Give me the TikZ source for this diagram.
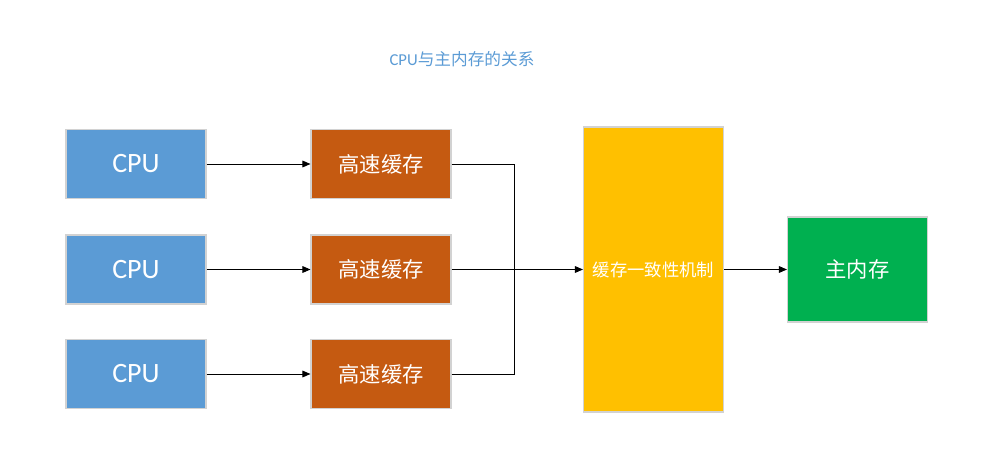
\documentclass[tikz,border=0pt]{standalone}
\usepackage{fontspec}
\setmainfont{Noto Sans CJK SC}
\newfontfamily\latfont{Carlito}
\usetikzlibrary{arrows.meta}

\definecolor{cpublue}{HTML}{5B9BD5}
\definecolor{cacheorange}{HTML}{C55A11}
\definecolor{syncyellow}{HTML}{FFC000}
\definecolor{memgreen}{HTML}{00B050}

\tikzset{
  unitbox/.style={draw=gray!35, line width=0.8pt, text=white,
    minimum width=105pt, minimum height=51.75pt, inner sep=0pt},
  cpubox/.style={unitbox, fill=cpublue, font={\latfont\fontsize{21}{24}\selectfont}},
  cachebox/.style={unitbox, fill=cacheorange, font={\fontsize{16}{19}\selectfont}},
  link/.style={-{Triangle[length=6pt,width=5pt]}, line width=0.7pt}
}

\begin{document}
\begin{tikzpicture}[x=0.75pt, y=-0.75pt]

  \useasboundingbox (0,0) rectangle (996,464);

  % title
  \node[text=cpublue, font={\fontsize{12.5}{15}\selectfont}] (title) at (462,59)
  {{\latfont CPU}与主内存的关系};

  % CPUs
  \node[cpubox] (cpu1) at (136,164) {CPU};
  \node[cpubox] (cpu2) at (136,269.5) {CPU};
  \node[cpubox] (cpu3) at (136,374) {CPU};

  % caches
  \node[cachebox] (cache1) at (381,164) {高速缓存};
  \node[cachebox] (cache2) at (381,269.5) {高速缓存};
  \node[cachebox] (cache3) at (381,374) {高速缓存};

  % coherence and memory
  \node[unitbox, fill=syncyellow, minimum height=213.75pt,
    font={\fontsize{13}{15}\selectfont}] (sync) at (653.5,269.5) {缓存一致性机制};
  \node[unitbox, fill=memgreen, minimum height=78.75pt,
    font={\fontsize{16}{19}\selectfont}] (mem) at (857.5,269.5) {主内存};

  \coordinate (join) at (514,269.5);

  % arrows
  \draw[link] (cpu1) -- (cache1);
  \draw[link] (cpu2) -- (cache2);
  \draw[link] (cpu3) -- (cache3);
  \draw[line width=0.7pt] (cache1.east) -| (join);
  \draw[line width=0.7pt] (cache3.east) -| (join);
  \draw[link] (cache2.east) -- (sync.west |- join);
  \draw[link] (sync.east |- join) -- (mem.west |- join);

\end{tikzpicture}
\end{document}
